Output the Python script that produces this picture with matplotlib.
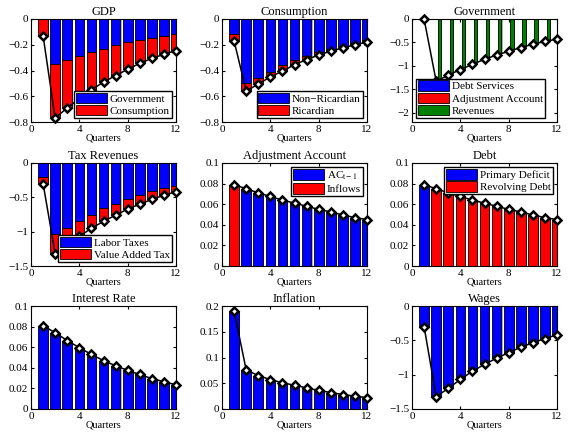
import numpy as np
import matplotlib.pyplot as plt
from matplotlib.patches import Patch

plt.rcParams['font.family'] = ['Liberation Serif', 'DejaVu Serif']
plt.rcParams['mathtext.fontset'] = 'stix'

q = np.arange(1, 13)

# GDP decomposition
gdp_gov = [0.0, -0.35, -0.32, -0.285, -0.255, -0.23, -0.205, -0.18, -0.16, -0.145, -0.13, -0.115]
gdp_tot = [-0.13, -0.77, -0.69, -0.62, -0.55, -0.49, -0.44, -0.39, -0.345, -0.305, -0.275, -0.245]

# Consumption decomposition
cons_nr = [-0.115, -0.50, -0.455, -0.41, -0.36, -0.32, -0.285, -0.255, -0.23, -0.21, -0.185, -0.165]
cons_tot = [-0.17, -0.56, -0.505, -0.45, -0.405, -0.355, -0.315, -0.28, -0.25, -0.225, -0.20, -0.18]

# Government decomposition
gov_debt = [0.0, -0.01, -0.01, -0.01, -0.01, -0.01, -0.01, -0.01, -0.01, -0.01, -0.01, -0.01]
gov_adj = [0.0, -0.01, -0.01, -0.01, -0.01, -0.01, -0.01, -0.01, -0.01, -0.01, -0.01, -0.01]
gov_rev = [0.0, -1.31, -1.18, -1.06, -0.95, -0.84, -0.75, -0.67, -0.59, -0.52, -0.46, -0.41]
gov_tot = [0.0, -1.33, -1.20, -1.08, -0.97, -0.86, -0.77, -0.69, -0.61, -0.54, -0.48, -0.43]

# Tax revenues decomposition
tax_lab = [-0.2, -1.03, -0.94, -0.84, -0.75, -0.66, -0.59, -0.525, -0.465, -0.41, -0.37, -0.33]
tax_tot = [-0.3, -1.32, -1.19, -1.07, -0.95, -0.85, -0.76, -0.67, -0.60, -0.53, -0.47, -0.42]

# Adjustment account / debt
acc_tot = [0.079, 0.075, 0.071, 0.0675, 0.064, 0.061, 0.058, 0.055, 0.0525, 0.0495, 0.047, 0.045]
acc_in = [0.079, 0, 0, 0, 0, 0, 0, 0, 0, 0, 0, 0]

rate = [0.081, 0.074, 0.0665, 0.0595, 0.053, 0.047, 0.042, 0.0375, 0.0335, 0.0295, 0.0265, 0.0235]
infl = [0.19, 0.076, 0.065, 0.057, 0.051, 0.046, 0.041, 0.036, 0.032, 0.028, 0.025, 0.022]
wages = [-0.3, -1.32, -1.2, -1.07, -0.95, -0.85, -0.76, -0.68, -0.6, -0.535, -0.475, -0.42]

W, H = 568, 434
fig = plt.figure(figsize=(W / 100, H / 100), dpi=100)

lefts = [31, 222, 412]
tops = [19, 163, 306]
aw, ah = 145, 103


def make_ax(r, c):
    return fig.add_axes([lefts[c] / W, 1 - (tops[r] + ah) / H, aw / W, ah / H])


def bars(ax, x, h, bottom, color, width=0.8):
    # grey shadow behind each bar, MATLAB style
    ax.bar(np.asarray(x) + 0.09, h, width, bottom=bottom, color='#b0b0b0', edgecolor='none', zorder=1)
    ax.bar(x, h, width, bottom=bottom, color=color, edgecolor='black', linewidth=0.6, zorder=2)


def total_line(ax, y):
    ax.plot(q, y, color='black', lw=1.1, marker='D', ms=4.5, mfc='white', mec='black', mew=1.8,
            zorder=5, clip_on=False)


def style(ax, title, ylim, yticks, yticklabels):
    ax.set_xlim(0, 12)
    ax.set_xticks([0, 4, 8, 12])
    ax.set_ylim(*ylim)
    ax.set_yticks(yticks)
    ax.set_yticklabels(yticklabels)
    ax.set_title(title, fontsize=9, pad=3)
    ax.set_xlabel('Quarters', fontsize=7.5, labelpad=0)
    ax.tick_params(direction='in', labelsize=8, length=2.5, top=True, right=True, pad=2)
    for s in ax.spines.values():
        s.set_linewidth(0.8)


def legend(ax, labels, colors, loc):
    handles = [Patch(facecolor=c, edgecolor='black', linewidth=0.6) for c in colors]
    ax.legend(handles, labels, loc=loc, fontsize=8, frameon=True, fancybox=False, edgecolor='black',
              framealpha=1, borderpad=0.15, handlelength=2.8, handleheight=1.1, handletextpad=0.25,
              labelspacing=0.1, borderaxespad=0.4)


neg08 = ([-0.8, 0], [-0.8, -0.6, -0.4, -0.2, 0], ['\u22120.8', '\u22120.6', '\u22120.4', '\u22120.2', '0'])
pos01 = ([0, 0.1], [0, 0.02, 0.04, 0.06, 0.08, 0.1], ['0', '0.02', '0.04', '0.06', '0.08', '0.1'])
neg15 = ([-1.5, 0], [-1.5, -1, -0.5, 0], ['\u22121.5', '\u22121', '\u22120.5', '0'])

# GDP
ax = make_ax(0, 0)
bars(ax, q, gdp_gov, 0, 'blue')
bars(ax, q, np.subtract(gdp_tot, gdp_gov) + np.array([0, 0.01] + [0] * 10), gdp_gov, 'red')
total_line(ax, gdp_tot)
style(ax, 'GDP', *neg08)
legend(ax, ['Government', 'Consumption'], ['blue', 'red'], 'lower right')

# Consumption
ax = make_ax(0, 1)
bars(ax, q, cons_nr, 0, 'blue')
bars(ax, q, np.subtract(cons_tot, cons_nr), cons_nr, 'red')
total_line(ax, cons_tot)
style(ax, 'Consumption', *neg08)
legend(ax, ['Non\u2212Ricardian', 'Ricardian'], ['blue', 'red'], 'lower right')

# Government
ax = make_ax(0, 2)
gw = 0.8 / 3
bars(ax, q - gw, gov_debt, 0, 'blue', gw)
bars(ax, q, gov_adj, 0, 'red', gw)
bars(ax, q + gw, gov_rev, 0, 'green', gw)
total_line(ax, gov_tot)
style(ax, 'Government', [-2.2, 0], [-2, -1.5, -1, -0.5, 0], ['\u22122', '\u22121.5', '\u22121', '\u22120.5', '0'])
legend(ax, ['Debt Services', 'Adjustment Account', 'Revenues'], ['blue', 'red', 'green'], 'lower left')

# Tax revenues
ax = make_ax(1, 0)
bars(ax, q, tax_lab, 0, 'blue')
bars(ax, q, np.subtract(tax_tot, tax_lab), tax_lab, 'red')
total_line(ax, tax_tot)
style(ax, 'Tax Revenues', *neg15)
legend(ax, ['Labor Taxes', 'Value Added Tax'], ['blue', 'red'], 'lower right')

# Adjustment account
ax = make_ax(1, 1)
bars(ax, q, np.subtract(acc_tot, acc_in), 0, 'blue')
bars(ax, q, acc_in, np.subtract(acc_tot, acc_in), 'red')
total_line(ax, acc_tot)
style(ax, 'Adjustment Account', *pos01)
legend(ax, ['AC$_{\\mathrm{t\u22121}}$', 'Inflows'], ['blue', 'red'], 'upper right')

# Debt
ax = make_ax(1, 2)
bars(ax, q, acc_in, 0, 'blue')
bars(ax, q, np.subtract(acc_tot, acc_in), acc_in, 'red')
total_line(ax, acc_tot)
style(ax, 'Debt', *pos01)
legend(ax, ['Primary Deficit', 'Revolving Debt'], ['blue', 'red'], 'upper right')

# Interest rate
ax = make_ax(2, 0)
bars(ax, q, rate, 0, 'blue')
total_line(ax, rate)
style(ax, 'Interest Rate', *pos01)

# Inflation
ax = make_ax(2, 1)
bars(ax, q, infl, 0, 'blue')
total_line(ax, infl)
style(ax, 'Inflation', [0, 0.2], [0, 0.05, 0.1, 0.15, 0.2], ['0', '0.05', '0.1', '0.15', '0.2'])

# Wages
ax = make_ax(2, 2)
bars(ax, q, wages, 0, 'blue')
total_line(ax, wages)
style(ax, 'Wages', *neg15)

fig.savefig('out.png', dpi=100)
